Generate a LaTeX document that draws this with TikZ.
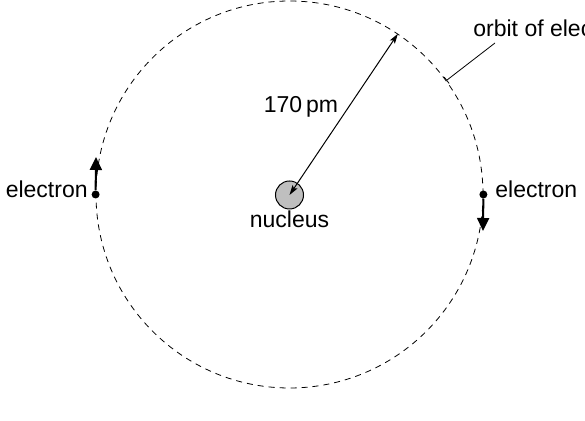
\documentclass[tikz,border=0pt]{standalone}
\usepackage{fontspec}
\setmainfont{Liberation Sans}
\usetikzlibrary{arrows.meta}
\begin{document}
\begin{tikzpicture}[x=0.5pt,y=-0.5pt,font=\fontsize{11.5}{13}\selectfont,
  orbitline/.style={circle,draw,dash pattern=on 3pt off 2.5pt,line width=0.4pt,minimum size=193.5pt,inner sep=0pt},
  dot/.style={circle,fill=black,minimum size=4pt,inner sep=0pt},
  motion/.style={line width=1pt,-{Triangle[length=6.5pt,width=6pt]}},
  label/.style={inner sep=0pt}]
\useasboundingbox (0,0) rectangle (585,421);
\node [orbitline] (orbit) at (289.5,194.5) {};
\node [circle,draw,fill=black!25,line width=0.5pt,minimum size=14pt,inner sep=0pt] (nucleus) at (289.5,195) {};
\node [label,anchor=base] (nuclabel) at (289.5,228) {nucleus};
\draw [{Stealth[length=5pt,width=3pt,inset=1pt]}-{Stealth[length=5pt,width=3pt,inset=1pt]},line width=0.5pt] (nucleus.center) -- (orbit.56.5);
\node [label,anchor=base] (radius) at (301,113) {170\,pm};
% electrons on the orbit
\node [dot] (eleft) at (orbit.180) {};
\node [dot] (eright) at (orbit.0) {};
\coordinate (upv) at (96,157);
\coordinate (downv) at (483,231);
\draw [motion] (eleft) -- (upv);
\draw [motion] (eright) -- (downv);
\node [label,anchor=base east] (lleft) at (88,198) {electron};
\node [label,anchor=base west] (lright) at (495,198) {electron};
% label of the orbit
\node [label,anchor=base west] (orbitlabel) at (473,37) {orbit of elec};
\draw [line width=0.4pt,-{Bar[width=4pt]}] (495,43) -- (orbit.36);
\end{tikzpicture}
\end{document}
